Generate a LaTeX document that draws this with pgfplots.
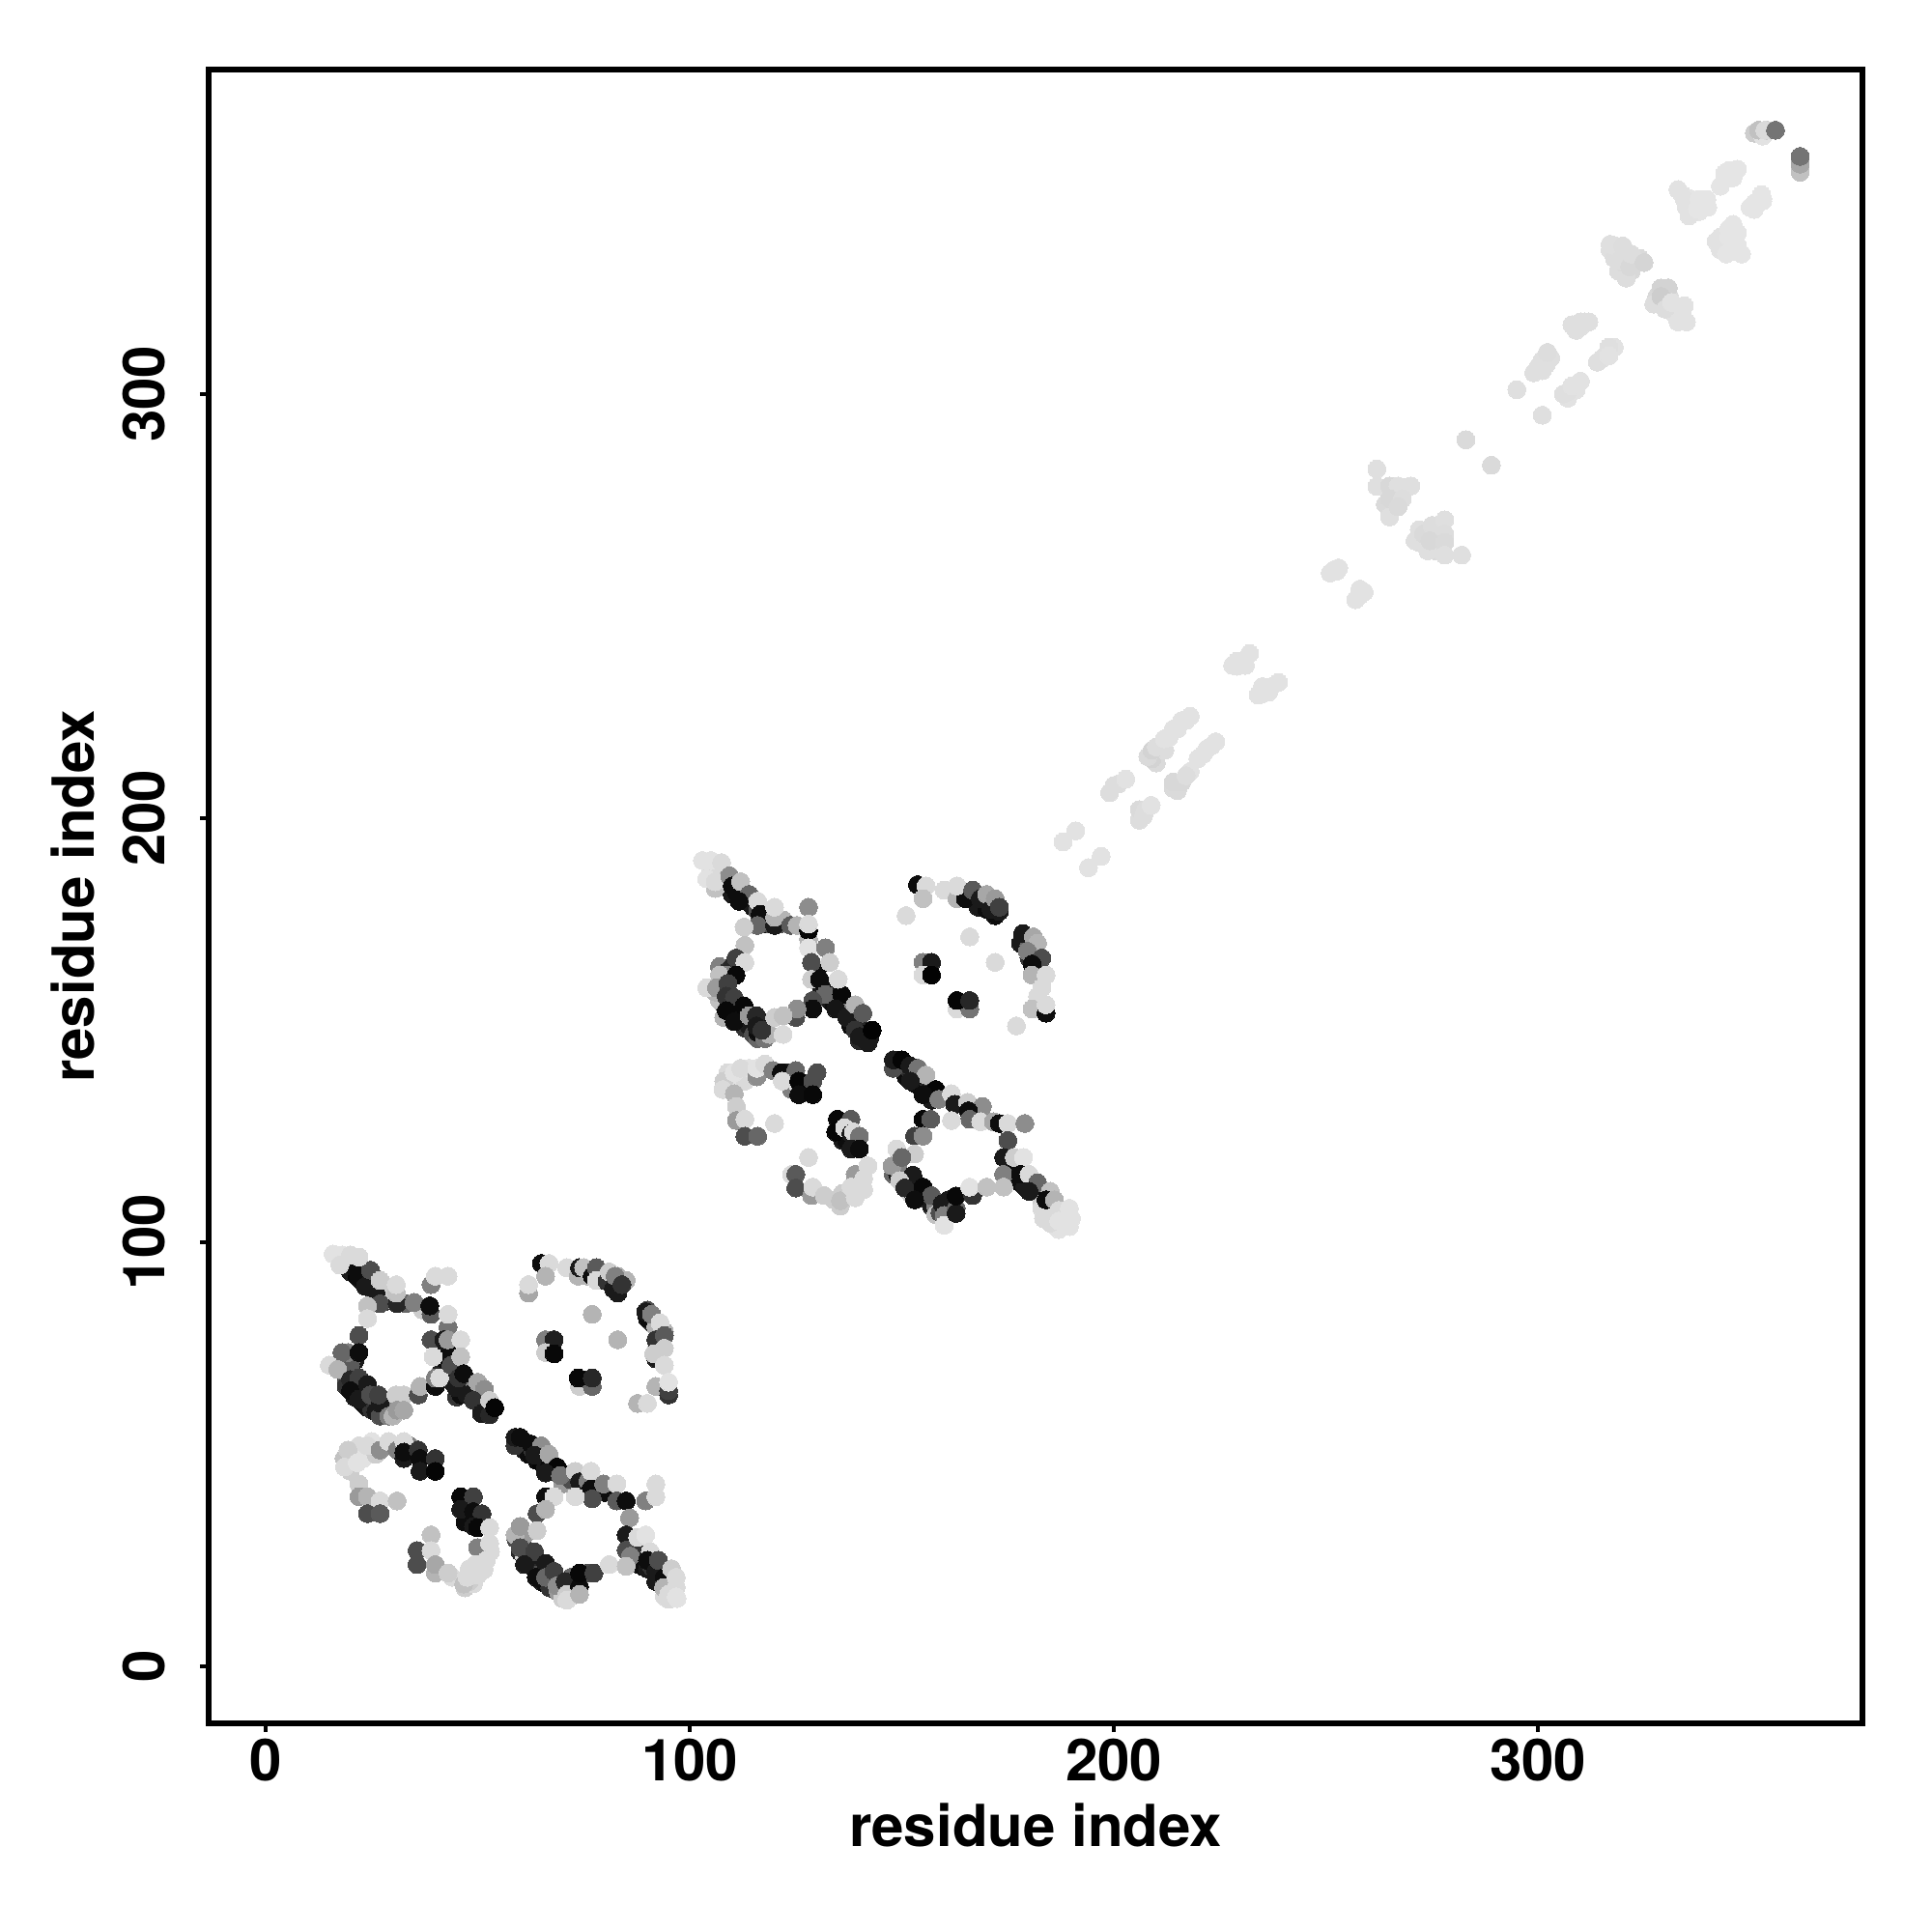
\documentclass[border=0pt]{standalone}
\usepackage{fontspec}
\setmainfont{TeX Gyre Heros}
\usepackage{pgfplots}
\pgfplotsset{compat=1.18}
\begin{document}
\begin{tikzpicture}
\path[use as bounding box] (-108pt,-108pt) rectangle (892pt,892pt);
\begin{axis}[
  scale only axis, width=856pt, height=856pt,
  xmin=-13.44, xmax=376.5, ymin=-13.44, ymax=376.5,
  axis line style={line width=3pt, line cap=rect},
  xtick={0,100,200,300}, ytick={0,100,200,300},
  tick align=outside, tick pos=left, major tick length=4.5pt,
  every tick/.style={black, line width=2pt},
  /pgf/number format/assume math mode=true,
  tick label style={font=\fontsize{30}{30}\selectfont\bfseries, inner sep=0pt},
  xticklabel style={anchor=north, yshift=-3.5pt},
  yticklabel style={rotate=90, anchor=south, yshift=18pt},
  label style={font=\fontsize{30}{30}\selectfont\bfseries, inner sep=0pt},
  xlabel={residue index}, ylabel={residue index},
  xlabel style={at={(rel axis cs:0.5,0)}, anchor=base, yshift=-63.5pt},
  ylabel style={at={(rel axis cs:0,0.5)}, anchor=base, rotate=0, yshift=59pt},
  colormap={grays}{gray(0cm)=(0); gray(1cm)=(1)},
  point meta min=0, point meta max=1,
  clip=false,
]
\addplot[only marks, mark=*, mark size=4.65pt, scatter, point meta=explicit,
  scatter/use mapped color={draw=mapped color, fill=mapped color},
  mark options={line width=0pt}]
 table[x=x, y=y, meta=g] {
x y g
19 95 .3
20 93 .1
21.5 92 .02
23 90.5 .05
24 90 .2
25 89 .1
27 87 .1
28 86 .2
29 86.5 .7
26 91.5 .3
23 93 .3
18 95 .8
20 95 .75
22 94.5 .4
30 88.5 .8
33 85.5 .4
37 84 .8
19 68 .3
19 69 .5
19 66 .2
21 65 .05
21 63.5 .1
23 62 .05
23 64 .2
24 61 .08
25 60.5 .2
26 60 .1
27 59 .3
28 60.5 .3
29 61 .5
18.5 71.5 .6
19 72.5 .3
17 71 .75
21 72 .1
20.5 73 .5
43 75 .05
42 70 .3
43 69 .15
44 67 .1
46 66 .05
47 65 .1
48 66 .5
49 64 .15
50 64 .4
51 63 .2
52 61 .1
53 60.5 .1
51 61.5 .15
45 63.5 .2
46 64 .05
41 69 .15
40.5 74 .1
59 53 .3
61 53 .15
61 51 .1
62 50 .05
63 51 .2
64 48.5 .05
65 48 .02
66 47 .1
67 47.5 .05
67.5 46 .15
69 46 .4
70 43 .6
70 45.5 .02
72 44 .3
74 45 .5
75 42 .1
78 41 .4
80 41 .05
59 30 .3
60 29 .1
60 27 .15
61 28 .2
62 26 .05
62 24 .05
63 23.5 .1
64 22 .15
65 22 .3
65 20 .1
66 19.5 .05
67 18.5 .2
68 20.5 .1
69 17.5 .6
70 18.5 .3
72 19 .2
72 16.5 .75
70 16 .8
72 21 .4
76 22 .3
61 31 .6
86 29 .2
87 27 .2
88 26.5 .2
88 24 .1
89 23.5 .05
90 23 .1
91 23.5 .2
92 20 .1
93 22 .05
94 19.5 .3
95 20 .8
94 16.5 .85
95 15.8 .85
96 20 .85
97 16 .88
20 49 .85
21 50 .85
22 52 .85
23 49 .88
25 53 .88
26 50 .8
18.5 49 .75
20 46 .8
31 52 .85
34 50 .2
34 52 .5
48 35 .2
47 34 .05
44 21 .85
47 18.5 .8
48 23 .85
50 23.5 .85
49 19.5 .85
48 20 .8
53 27 .85
83 92 .7
85 91 .7
83 88 .1
81 91 .1
79 91 .05
76 92 .7
90 84 .3
91 81 .2
90 82 .05
92 80 .7
92 74.5 .1
92 72.5 .1
93 76 .2
94 79 .7
95 64 .2
107 187 .75
105 188 .85
107 184 .6
108 184 .7
110 182 .1
111 182.5 .05
112 182 .3
113 181 .1
114 180 .02
115 179 .1
116 178 .3
117 176 .1
118 175 .05
119 175 .3
121 175 .3
122 176 .7
107 165 .5
109 164 .2
110 165 .15
109 159 .2
108 156 .1
109 157 .05
109.5 155 .05
111 153 .05
112 152 .05
113 150.5 .2
114 151 .1
115 149 .3
116 148 .4
116 149.5 .05
117 152 .08
107 157 .75
108 153 .7
106 159 .7
130 164 .05
131 160 .1
132 160 .05
133 157 .1
134 156 .05
135 155 .1
136 156 .15
137 155 .5
138 151 .05
139 152 .1
140 151 .15
141 149 .05
140 147.5 .15
142 147 .1
168 179 .1
170 178.5 .05
172 177 .05
173 178 .1
178 170.5 .1
179 171 .1
180 170 .4
180 167 .2
181 165 .3
182 158 .85
109 140 .85
110 137 .85
112 139 .88
113 138 .85
114 141 .88
123 140 .1
124 138 .15
124 136 .5
130 140 .3
136 124 .1
137 124 .05
139 114 .5
134 110 .8
136 111.5 .8
138 111 .85
140 114 .85
149 142 .1
150 141 .05
151 139 .05
152 140.5 .2
153 137.5 .05
154 137 .05
155 137 .02
156 136 .15
157 135 .1
158 134.5 .3
157 133.5 .1
148 116 .4
149 116 .1
149 118 .5
150 114 .8
151 114 .1
152 112 .03
152 111.5 .8
153 112 .3
154 110.5 .08
155 111 .1
156 110 .2
157 108.5 .1
158 108.5 .5
158 106.5 .75
159 107 .3
161 110 .1
161 107 .6
176 117 .05
177 115 .1
178 114 .05
179 113 .1
181 114 .5
182 112 .05
183 111 .05
183 109 .8
184 107 .85
185 107 .85
186 104 .88
187 103 .88
183 108 .85
201 208 .86
199 206 .86
206 199.5 .86
206 202 .85
210 213 .85
209 214 .82
212 216 .86
213 219 .88
215 221 .88
217 223 .88
214 207 .85
215 206.5 .85
218 211 .88
221 215 .88
223 217 .88
228 236 .88
230 237 .88
231 236 .88
234 229 .88
235 231 .88
237 231 .88
251 257.8 .88
253 259 .88
257 251.5 .88
258 254 .88
266 276 .85
266 273 .84
264 274 .85
268 278 .86
272 265 .86
274 268 .85
276 268 .87
276 265 .85
276 263 .85
274 263 .87
272 268 .87
301 305.5 .87
302 307 .87
303 308.5 .87
299 305 .87
307 299 .88
309 301 .88
307 300.5 .87
309 315 .87
310 317 .87
312 317 .87
314 307.5 .87
316 309 .87
318 311 .88
317 334 .87
318 332 .86
318 335 .87
319 329 .86
320 331 .85
322 329 .84
323 331 .84
324 332 .85
322 331.5 .85
328 323 .84
329 325 .82
329 321 .84
331 323 .86
332 321 .88
332 319 .88
334 319 .88
334 347 .88
335 344 .88
336 346 .89
337 345 .89
336 342.5 .88
338 343 .89
340 344 .89
343 349 .89
344 352 .89
346 351 .89
343 334 .88
343 337 .88
345 339 .89
347 335 .89
347 338 .89
345 334 .89
351 345 .89
351 343.5 .89
353 345.5 .89
351 361.5 .8
353 360.8 .88
354 362.2 .8
21 94 .05
22 91.5 .05
23.5 89.6 .1
26 88 .1
24.7 93.4 .3
27 85.5 .3
31 85.5 .15
30.8 88 .75
35 85.8 .5
39 83 .35
38.7 85 .05
43 80 .45
39 90 .5
15.9 97.2 .88
18 97 .88
20 97 .85
17.5 94.6 .85
22 96.5 .85
27 91 .8
30.8 90 .85
40 92 .85
43 92 .85
43 83 .85
24 85 .75
24 82 .85
22 78 .3
20 71 .35
19.4 74 .5
18 74 .4
22 74 .05
15 71 .85
17 70 .7
20 67.6 .15
22 68 .25
20 65 .05
22 63 .1
24 66.5 .1
24.7 64 .3
27 62 .1
26.6 64 .25
29 59 .5
30 59 .7
30.7 64 .8
32.6 64 .8
31 60.4 .6
32.6 60.4 .65
36 64 .3
36.4 66 .7
40 66 .05
40 68 .5
41 68 .85
39 77 .3
42 77 .1
43 77 .6
46 77 .85
42 72.5 .05
39.5 73 .85
43.7 71 .3
46 73 .75
45 65.7 .1
45.5 68 .2
46.7 69 .05
47.5 64 .1
50 67 .65
51.6 65.3 .55
49 62.7 .2
50.9 59.6 .1
52.8 59.3 .15
52.8 62.7 .8
54 61 .02
65 95 .05
66.8 95 .85
66 92 .7
62 88 .65
62 90 .85
71 94 .85
73.7 92 .7
74 94 .1
75 94 .75
77 92 .05
78 94 .35
78 91 .85
80.5 90.8 .2
82 89 .1
81 93 .8
82.4 92 .5
84 90 .2
89.6 83.6 .1
91 83 .5
93 81 .85
92 77 .2
94 78 .35
91.5 73.7 .8
94 75 .8
94 71 .85
92 66 .7
95 65 .25
95 67 .88
87.7 62 .7
90 62 .85
77 83 .7
83 77 .7
66 77 .5
68 77 .12
66 74 .8
68 73.7 .03
74 66 .8
77 66 .4
73.7 68 .03
77 68 .15
19.4 51 .8
18.6 47 .85
24 52 .85
21.6 48 .88
27 51 .55
29 53 .85
31 51 .5
32.6 53 .85
32.6 49 .1
32.6 50.5 .05
36 51 .2
36.4 49 .05
40 49 .2
36.4 46 .1
40 46 .02
22 43 .8
22 40 .6
24 40 .7
27 39 .85
31 39 .75
24 36 .3
27 36 .35
46 40 .03
49 40 .25
46 37 .1
49 36.5 .05
51 36 .2
49 33 .1
50 32.7 .03
52.8 32.7 .85
50 28 .5
52.8 29 .85
39 31 .75
35.7 27.3 .3
39 27.3 .85
35.7 24 .3
40 22 .7
40 24 .65
43 22 .8
46.7 19.4 .75
47.5 21 .85
49.4 24 .85
52 25 .85
51.5 22.8 .85
50 21.5 .85
58.8 52 .2
58.8 54 .1
60 54 .05
62.6 52.4 .05
65 52 .55
63.4 49.8 .1
66.8 50 .65
68.7 47 .02
66 45.6 .1
69.5 45 .45
73 46 .8
74 43.5 .1
76 43.7 .5
76.7 46 .85
76.7 41.8 .05
77 39.5 .3
79.7 43 .5
82.8 43 .85
82.8 39 .35
85 39 .05
73 40 .85
89.6 39 .5
92 40 .85
92 43 .85
85.8 35 .6
66 40 .05
68 40 .85
64 36 .3
66 37 .7
58.8 31 .7
60 33 .6
64 32 .8
61 26 .85
60 28 .3
63.4 27 .25
61 24 .1
66 24.3 .1
63.8 21 .05
66 21 .4
68 22.4 .25
68.7 19 .55
70.6 20 .15
71 17 .8
71 15.6 .85
74 18.7 .05
74 17 .7
74 22 .03
77.4 22 .25
85 31 .1
85 27.4 .3
86 26 .5
87.7 30.4 .85
89.6 31 .88
90.7 27 .85
81 24 .85
85 23.6 .75
90 25 .05
92 22.4 .1
92.6 25 .3
94 21 .05
93.8 18.6 .7
95 17 .85
95.7 23 .8
96.8 21 .85
96.8 18.6 .85
96.8 16.4 .88
106 183.4 .75
103 190 .88
105 190 .88
107.5 189.5 .85
104 185.7 .88
106 185 .85
109.4 186.4 .55
110 184 .05
112 185 .75
114 182 .4
111.6 180.4 .05
116 180.4 .85
116.6 177.3 .05
116 174.7 .4
120 174.7 .1
120 176.6 .7
120 179 .85
112.8 174.3 .8
123.8 174.7 .35
125.3 174.7 .7
128 179 .55
128 171.6 .7
128 173.5 .02
128 175 .85
113 170 .75
128 169.4 .88
132 169.4 .5
128.7 166 .3
133 166 .8
128.7 162 .8
130.6 162 .05
132 158.4 .4
135.8 158.4 .03
135 162 .85
129 157 .3
129 155 .05
125 153 .3
125.3 155 .55
134.4 155 .08
137 153 .1
139 156 .7
140.8 154 .35
139 150 .2
140 148.5 .1
142.4 148 .1
143 150 .01
110.9 167 .25
113 166 .85
108.6 163 .5
107 163 .75
110.9 163 .03
104 160 .85
106.3 160 .6
109 161 .25
108.6 158 .2
110.5 157.6 .25
108.6 154.6 .03
112.8 155.7 .03
110.5 152 .05
114 153.4 .6
115.7 153.4 .15
115.7 151 .1
117.7 148 .45
118.8 149 .7
117 150 .2
120 153 .8
122 153.4 .75
122 149 .85
153.7 184.3 .05
155.7 184 .85
155 181 .75
151 177 .85
160 183 .85
163 181 .7
165 181 .05
163 184 .85
166.7 183 .35
168.5 181 .1
170 182 .65
171 178.5 .1
172 181 .6
173 179 .25
178.5 172.8 .1
181 172 .65
182 170.5 .7
179.6 168.6 .5
183 167 .3
180.7 165.6 .05
180.7 163 .7
184 163 .85
183 160 .85
180.7 155 .75
184 154 .05
184 156 .85
177 151 .85
166 172 .85
172 166 .85
155 166 .5
157 166 .1
155 163 .85
157 163 .01
163 155 .85
166 155 .45
163 157 .02
166 157 .15
108 138 .8
107.8 136 .85
110.5 135 .7
110.5 140 .88
112 141 .85
115.8 139 .55
115.8 141 .88
117.7 142 .85
119.6 140.5 .5
121.6 140 .05
125 140.5 .4
121.8 138 .85
125.7 136.5 .85
125.7 138 .02
129 138 .3
125.7 134.8 .05
129 134.8 .03
111 132 .8
111 128.7 .6
113 129 .85
120 128 .85
113 125 .3
116 125 .4
134.8 129 .03
138 129 .35
134.4 126 .02
136.5 127 .85
138 125.6 .1
138.6 126 .85
140 125 .45
138 122 .1
140 122 .05
128 120 .85
124 116 .85
125 116 .35
125 112.8 .3
128.7 111 .6
129 113 .85
131.7 111 .8
135.5 108.5 .8
135.5 109.8 .75
139 116 .6
141 115 .85
142 118 .85
138 113 .85
141 112.4 .85
139 110.5 .85
148 141 .3
148 143 .1
150 143 .02
151.9 141.6 .1
153.8 141 .45
155.7 139.4 .7
152 138 .1
158 136 .02
155 134.8 .05
158.7 133.7 .5
161.7 135 .85
162.5 132.5 .1
165.5 133 .8
169 132 .55
165.7 131 .05
166 129 .4
161.7 128.7 .85
155 129 .03
156.8 129 .35
168.6 128.4 .85
171.6 128.4 .65
173 128 .05
175 128 .85
179 128 .55
175 124 .3
153 125 .25
155 125 .55
153 120.8 .8
147.7 118 .6
148.8 122 .85
150 120 .4
152.6 115.8 .1
149.5 114.5 .8
150.7 112.8 .15
155 113 .03
157 111 .35
153 110 .05
159.5 109 .1
160 106.3 .5
160 104 .88
162.8 108 .4
162.8 106.8 .1
162.8 110.9 .03
166.7 111 .2
166 113 .88
170 113 .75
174 120 .1
176.5 120 .8
178.7 120 .88
174 116 .5
174 113 .75
178 116 .05
180 116 .85
182 114 .4
180 112 .1
185 112 .75
184 110 .05
186 110 .7
183.4 105.6 .85
185 104.5 .85
187 107.5 .85
187 105 .88
189.5 108 .88
190 105.6 .88
189.5 103.7 .88
188 194.4 .88
191 197 .88
194 188.3 .88
197 191 .88
200 207.7 .86
202.8 209.2 .88
207 200.5 .86
207.5 202 .86
208.8 203 .88
208 214.5 .85
209 216 .82
210 216.8 .86
211.9 218.7 .88
214 221 .88
216 223 .88
218 224 .88
214 208.5 .84
216 208.5 .84
217 210 .86
219.8 214 .88
222 216.4 .88
224 218 .88
229 235.8 .88
229 237 .88
232 238.8 .88
235 229.3 .88
236.5 229.7 .88
238.8 232 .88
252 258.6 .88
252.5 258.2 .88
258 252.5 .88
259 253.3 .88
262 282.3 .87
262 278.2 .87
265 278.3 .84
267 278.3 .87
270 278.3 .87
265 275.3 .84
268 275.3 .86
265 271 .87
267 273.4 .85
271 265.4 .87
273 267 .85
275 269 .86
278 270.3 .87
278 267 .86
274.5 265.4 .84
278 265 .85
278 262 .87
282 262 .87
283 289.2 .85
289 283.2 .85
295 301 .87
301 295 .87
300 306.4 .87
301 308 .87
302.2 309.8 .86
306 300 .87
308 301.9 .88
310 303 .88
308 316.3 .87
310 315.8 .87
311 317 .87
315 308.3 .87
316.7 311 .87
316.7 309 .88
317 335.3 .87
319.3 331.5 .86
320 334.9 .86
320.8 327.3 .86
321.6 330 .84
322 333 .86
325 331 .83
327.3 321.2 .86
330.7 325 .82
329 323 .8
330 320 .86
331.5 321.6 .88
334.5 320.8 .88
333 317 .88
335 317 .88
333 348.2 .88
334.5 345.9 .88
335.6 342 .88
337.6 343.6 .89
339.8 345.9 .89
338 345.9 .89
344 350.5 .89
345 352.7 .89
347 353 .89
342 336 .88
346 340 .89
345 337 .89
344.4 333 .89
348 333 .89
346 335 .89
350 344 .89
352.7 347 .89
353 346 .89
352 362.2 .75
353.5 362.2 .85
356 362.2 .45
361.8 352.3 .75
361.8 354.2 .65
361.8 356 .45
};
\end{axis}
\end{tikzpicture}
\end{document}
